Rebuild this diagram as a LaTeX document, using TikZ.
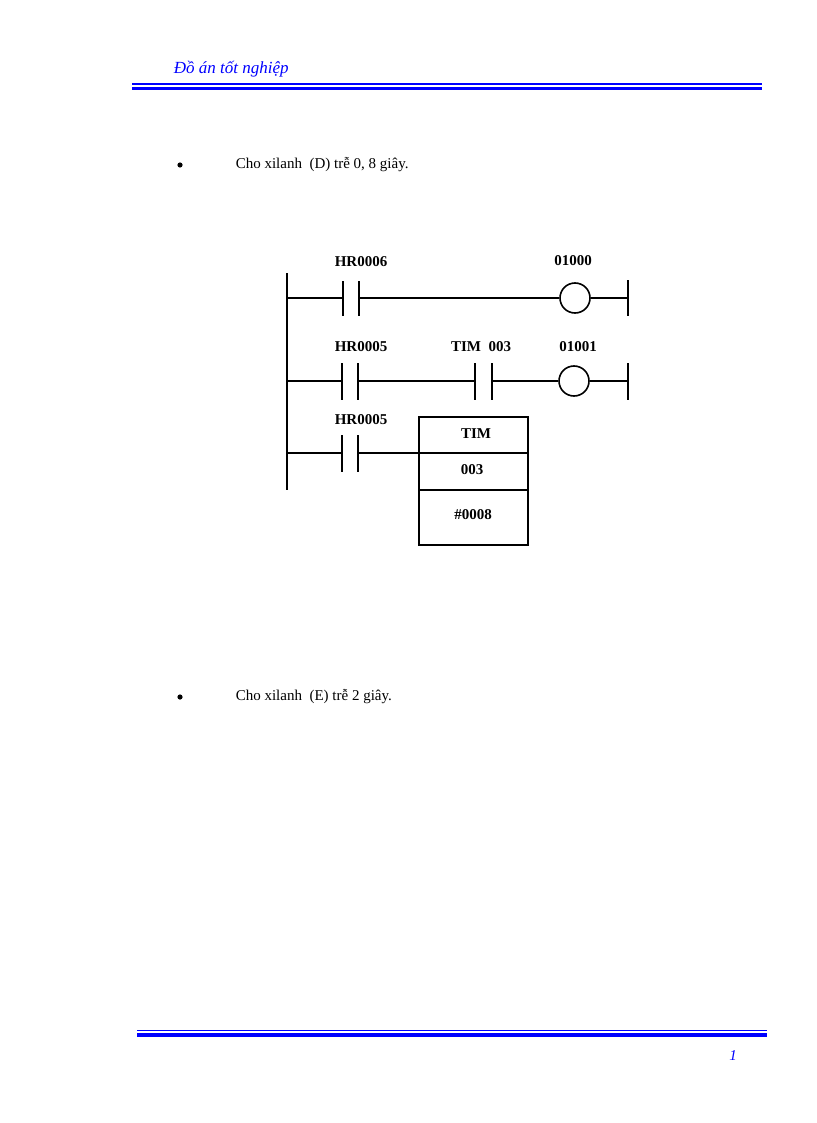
\documentclass[tikz,border=0pt]{standalone}
\usepackage{fontspec}
\setmainfont{Liberation Serif}
\begin{document}
\begin{tikzpicture}[x=1pt,y=-1pt,line width=1.6pt,
  lbl/.style={font=\bfseries\fontsize{15}{17}\selectfont,inner sep=0},
  body/.style={font=\fontsize{15}{17}\selectfont,anchor=west,inner sep=0},
  coil/.style={circle,draw,minimum size=30pt,inner sep=0}]
\useasboundingbox (0,0) rectangle (816,1123);
\node[font=\itshape\fontsize{17}{19}\selectfont,text=blue,anchor=west,inner sep=0] (hd) at (173,69) {Đồ án tốt nghiệp};
\fill[blue] (132,83.5) rectangle (762,85);
\fill[blue] (132,87) rectangle (762,90.5);
\fill[blue] (137,1029.5) rectangle (767,1031);
\fill[blue] (137,1033) rectangle (767,1036.5);
\node[font=\itshape\fontsize{15}{17}\selectfont,text=blue,inner sep=0] (pg) at (733,1056) {1};
\fill (180,165) circle (2.6);
\node[body] (t1) at (235,165) {Cho xilanh\ \ (D) trễ 0, 8 giây.};
\fill (180,697) circle (2.6);
\node[body] (t2) at (235,697) {Cho xilanh\ \ (E) trễ 2 giây.};
% rails
\draw (287,273) -- (287,490);
\draw (628,280) -- (628,316);
\draw (628,363) -- (628,400);
% rung 1
\node[coil] (c1) at (575,298) {};
\draw (287,298) -- (343,298) (343,281) -- (343,316) (359,281) -- (359,316) (359,298) -- (c1.west) (c1.east) -- (628,298);
% rung 2
\node[coil] (c2) at (574,381) {};
\draw (287,381) -- (342,381) (342,363) -- (342,400) (358,363) -- (358,400) (358,381) -- (475,381)
  (475,363) -- (475,400) (492,363) -- (492,400) (492,381) -- (c2.west) (c2.east) -- (628,381);
% rung 3
\draw (287,453) -- (342,453) (342,435) -- (342,472) (358,435) -- (358,472) (358,453) -- (419,453);
\draw (419,417) rectangle (528,545) (419,453) -- (528,453) (419,490) -- (528,490);
\node[lbl] (l1) at (361,262) {HR0006};
\node[lbl] (l2) at (573,261) {01000};
\node[lbl] (l3) at (361,347) {HR0005};
\node[lbl] (l4) at (481,347) {TIM\ \ 003};
\node[lbl] (l5) at (578,347) {01001};
\node[lbl] (l6) at (361,420) {HR0005};
\node[lbl] (b1) at (476,434) {TIM};
\node[lbl] (b2) at (472,470) {003};
\node[lbl] (b3) at (473,515) {\#0008};
\end{tikzpicture}
\end{document}
